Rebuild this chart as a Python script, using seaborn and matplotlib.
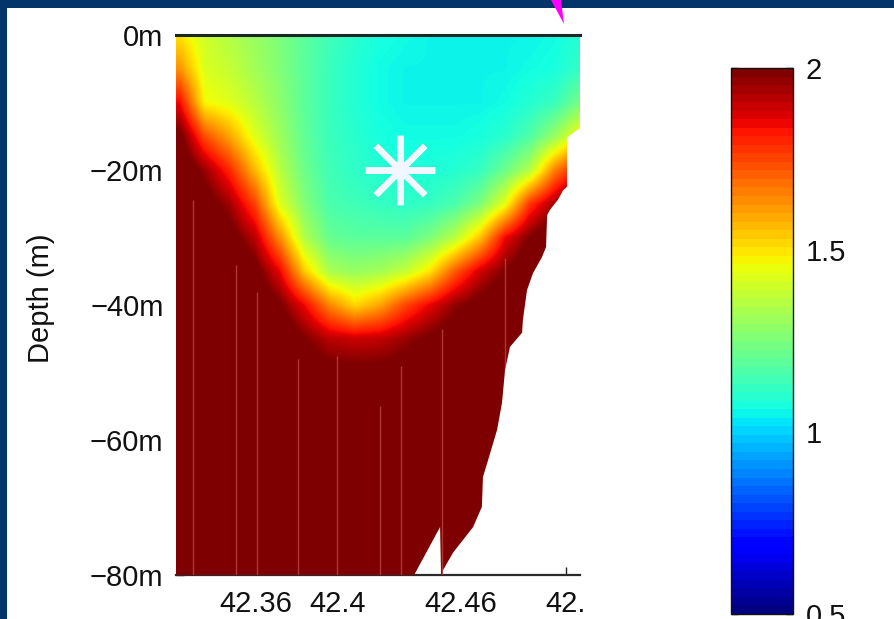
import numpy as np
import matplotlib
matplotlib.use("Agg")
import matplotlib.pyplot as plt
import matplotlib.cm as mcm
import matplotlib.colors as mcolors
import seaborn as sns
from matplotlib.patches import Polygon, Rectangle

# ---------------- data ----------------
station_lat = [42.3229, 42.3351, 42.3473, 42.3595, 42.3717, 42.3839, 42.3961, 42.4083,
               42.4205, 42.4327, 42.4449, 42.4571, 42.4693, 42.4815, 42.4937, 42.5059, 42.5180]
depth_levels = [0, -5, -10, -15, -20, -25, -30, -35, -40, -45, -50, -55, -60, -65, -70, -75, -80]

# one profile per station (values at depth_levels)
prof_00 = [1.50, 1.63, 1.85, 2.03, 2.10, 2.10, 2.10, 2.10, 2.10, 2.10, 2.10, 2.10, 2.10, 2.10, 2.10, 2.10, 2.10]
prof_01 = [1.40, 1.42, 1.47, 1.74, 1.96, 2.06, 2.10, 2.10, 2.10, 2.10, 2.10, 2.10, 2.10, 2.10, 2.10, 2.10, 2.10]
prof_02 = [1.35, 1.38, 1.43, 1.60, 1.80, 1.95, 2.05, 2.10, 2.10, 2.10, 2.10, 2.10, 2.10, 2.10, 2.10, 2.10, 2.10]
prof_03 = [1.30, 1.32, 1.36, 1.43, 1.57, 1.76, 1.92, 2.04, 2.10, 2.10, 2.10, 2.10, 2.10, 2.10, 2.10, 2.10, 2.10]
prof_04 = [1.25, 1.26, 1.28, 1.31, 1.36, 1.43, 1.64, 1.86, 2.01, 2.10, 2.10, 2.10, 2.10, 2.10, 2.10, 2.10, 2.10]
prof_05 = [1.19, 1.19, 1.19, 1.20, 1.22, 1.26, 1.34, 1.54, 1.85, 2.00, 2.08, 2.10, 2.10, 2.10, 2.10, 2.10, 2.10]
prof_06 = [1.14, 1.13, 1.13, 1.13, 1.14, 1.16, 1.21, 1.33, 1.65, 1.92, 2.04, 2.10, 2.10, 2.10, 2.10, 2.10, 2.10]
prof_07 = [1.10, 1.09, 1.09, 1.10, 1.11, 1.14, 1.19, 1.30, 1.52, 1.90, 2.03, 2.10, 2.10, 2.10, 2.10, 2.10, 2.10]
prof_08 = [1.07, 1.06, 1.06, 1.07, 1.09, 1.12, 1.19, 1.32, 1.60, 1.91, 2.03, 2.10, 2.10, 2.10, 2.10, 2.10, 2.10]
prof_09 = [1.06, 1.05, 1.05, 1.06, 1.08, 1.11, 1.19, 1.38, 1.75, 1.96, 2.06, 2.10, 2.10, 2.10, 2.10, 2.10, 2.10]
prof_10 = [1.05, 1.05, 1.05, 1.06, 1.08, 1.12, 1.25, 1.50, 1.86, 2.02, 2.10, 2.10, 2.10, 2.10, 2.10, 2.10, 2.10]
prof_11 = [1.05, 1.05, 1.05, 1.06, 1.09, 1.16, 1.36, 1.72, 1.97, 2.07, 2.10, 2.10, 2.10, 2.10, 2.10, 2.10, 2.10]
prof_12 = [1.05, 1.05, 1.05, 1.07, 1.12, 1.25, 1.55, 1.89, 2.04, 2.10, 2.10, 2.10, 2.10, 2.10, 2.10, 2.10, 2.10]
prof_13 = [1.05, 1.05, 1.06, 1.10, 1.22, 1.44, 1.85, 2.00, 2.10, 2.10, 2.10, 2.10, 2.10, 2.10, 2.10, 2.10, 2.10]
prof_14 = [1.05, 1.06, 1.09, 1.17, 1.35, 1.78, 2.00, 2.10, 2.10, 2.10, 2.10, 2.10, 2.10, 2.10, 2.10, 2.10, 2.10]
prof_15 = [1.06, 1.07, 1.13, 1.30, 1.66, 1.95, 2.10, 2.10, 2.10, 2.10, 2.10, 2.10, 2.10, 2.10, 2.10, 2.10, 2.10]
prof_16 = [1.09, 1.12, 1.24, 1.48, 1.85, 2.10, 2.10, 2.10, 2.10, 2.10, 2.10, 2.10, 2.10, 2.10, 2.10, 2.10, 2.10]

# sea-floor (bathymetry) outline
bottom_lat = [42.300, 42.4366, 42.4498, 42.4506, 42.4512, 42.4561, 42.4659, 42.4702, 42.4707,
              42.4732, 42.4776, 42.4800, 42.4815, 42.4839, 42.4898, 42.4902, 42.4922, 42.4951,
              42.4995, 42.5015, 42.5020, 42.5034, 42.5073, 42.5098, 42.5117, 42.5117, 42.5122,
              42.5180, 42.5300]
bottom_depth = [-85.0, -80.3, -72.9, -85.0, -79.3, -76.7, -72.9, -69.9, -65.5,
                -63.0, -58.5, -54.5, -49.6, -46.2, -44.1, -42.2, -37.8, -35.3,
                -32.9, -31.4, -26.7, -25.9, -24.4, -23.0, -22.5, -15.1, -15.1,
                -13.8, -13.8]

# cast lines visible in the saturated water
cast_lat = [42.3293, 42.3502, 42.3605, 42.3805, 42.3995, 42.4205, 42.4307, 42.4507, 42.4815]
cast_top = [-24.4, -34.0, -38.0, -48.0, -47.5, -55.0, -49.0, -43.5, -33.0]

star_lat = [42.4302]
star_depth = [-20.0]

x_ticks = [42.36, 42.40, 42.46, 42.511]
x_labels = ["42.36", "42.4", "42.46", "42."]
y_ticks = [-80, -60, -40, -20, 0]
y_labels = ["\u221280m", "\u221260m", "\u221240m", "\u221220m", "0m"]
cb_ticks = [0.5, 1.0, 1.5, 2.0]
cb_labels = ["0.5", "1", "1.5", "2"]
x_limits = (42.32098, 42.51805)
y_limits = (-80, 0)
c_limits = (0.5, 2.0)

# ---------------- styling ----------------
sns.set_theme(style="white")
plt.rcParams["font.family"] = ["Liberation Sans", "DejaVu Sans"]
FS = 21
NAVY = "#03356a"

fig = plt.figure(figsize=(8.95, 6.19), dpi=100)
fig.patch.set_facecolor("white")
W, H = 895.0, 619.0

ax = fig.add_axes([176 / W, 1 - 575 / H, 404 / W, 540 / H])
ax.set_facecolor("white")

field = np.array([prof_00, prof_01, prof_02, prof_03, prof_04, prof_05, prof_06, prof_07,
                  prof_08, prof_09, prof_10, prof_11, prof_12, prof_13, prof_14, prof_15,
                  prof_16]).T
lat = np.array(station_lat)
dep = np.array(depth_levels)
dx = (lat[-1] - lat[0]) / (len(lat) - 1)
dz = abs(dep[1] - dep[0])
norm = mcolors.Normalize(vmin=c_limits[0], vmax=c_limits[1])

im = ax.imshow(field, cmap=plt.get_cmap("jet"), norm=norm,
               extent=[lat[0] - dx / 2, lat[-1] + dx / 2, dep[-1] - dz / 2, dep[0] + dz / 2],
               origin="upper", aspect="auto", interpolation="bilinear",
               interpolation_stage="data", zorder=3)

water_verts = [(bottom_lat[0], 5.0)] + list(zip(bottom_lat, bottom_depth)) + [(bottom_lat[-1], 5.0)]
water = Polygon(water_verts, closed=True, transform=ax.transData)
im.set_clip_path(water)

casts = ax.vlines(cast_lat, -90, cast_top, colors="#d8665f", linewidth=1.0, alpha=0.55, zorder=4)
casts.set_clip_path(water)

ax.plot(star_lat, star_depth, linestyle="none", marker=(8, 2, 0), markersize=50,
        markeredgewidth=4.5, color="#f2f6ff", zorder=6)

ax.set_xlim(*x_limits)
ax.set_ylim(*y_limits)
ax.set_xticks(x_ticks)
ax.set_xticklabels(x_labels)
ax.set_yticks(y_ticks)
ax.set_yticklabels(y_labels)
ax.xaxis.set_ticks_position("bottom")
ax.yaxis.set_ticks_position("left")
ax.tick_params(axis="both", direction="in", length=6, width=1, color="#222222",
               labelsize=FS, labelcolor="#111111")
ax.tick_params(axis="x", pad=11)
ax.tick_params(axis="y", pad=9)
# only the last x tick mark shows in the reference (others hidden by the section)
for t in ax.xaxis.get_major_ticks()[:-1]:
    t.tick1line.set_visible(False)
ax.set_ylabel("Depth (m)", fontsize=FS, color="#111111")
ax.yaxis.set_label_coords(-0.30, 0.513)

for s in ["left", "right"]:
    ax.spines[s].set_visible(False)
ax.spines["bottom"].set_color("#2a2a2a")
ax.spines["bottom"].set_linewidth(1.6)
ax.spines["bottom"].set_zorder(1)
ax.spines["top"].set_visible(True)
ax.spines["top"].set_color("#1c2626")
ax.spines["top"].set_linewidth(2.2)
ax.spines["top"].set_zorder(7)

# colorbar (MATLAB-style 64-step jet)
cax = fig.add_axes([731 / W, 1 - 614 / H, 62 / W, 546 / H])
sm = mcm.ScalarMappable(norm=norm, cmap=plt.get_cmap("jet", 64))
cb = fig.colorbar(sm, cax=cax, ticks=cb_ticks)
cb.ax.set_yticklabels(cb_labels)
cb.ax.tick_params(direction="in", left=True, right=True, length=5, width=1,
                  color="#222222", labelsize=FS, labelcolor="#111111", pad=9)
cb.outline.set_edgecolor("#111111")
cb.outline.set_linewidth(1.0)

# slide frame and pointer
fig.add_artist(Rectangle((0, 1 - 8 / H), 1, 8 / H, transform=fig.transFigure,
                         facecolor=NAVY, edgecolor="none", zorder=10))
fig.add_artist(Rectangle((0, 0), 7 / W, 1, transform=fig.transFigure,
                         facecolor=NAVY, edgecolor="none", zorder=10))
fig.add_artist(Polygon([[551 / W, 1.0], [561 / W, 1.0], [564 / W, 1 - 24 / H]], closed=True,
                       transform=fig.transFigure, facecolor="#ff00ff", edgecolor="none", zorder=11))

fig.savefig("out.png", dpi=100)
